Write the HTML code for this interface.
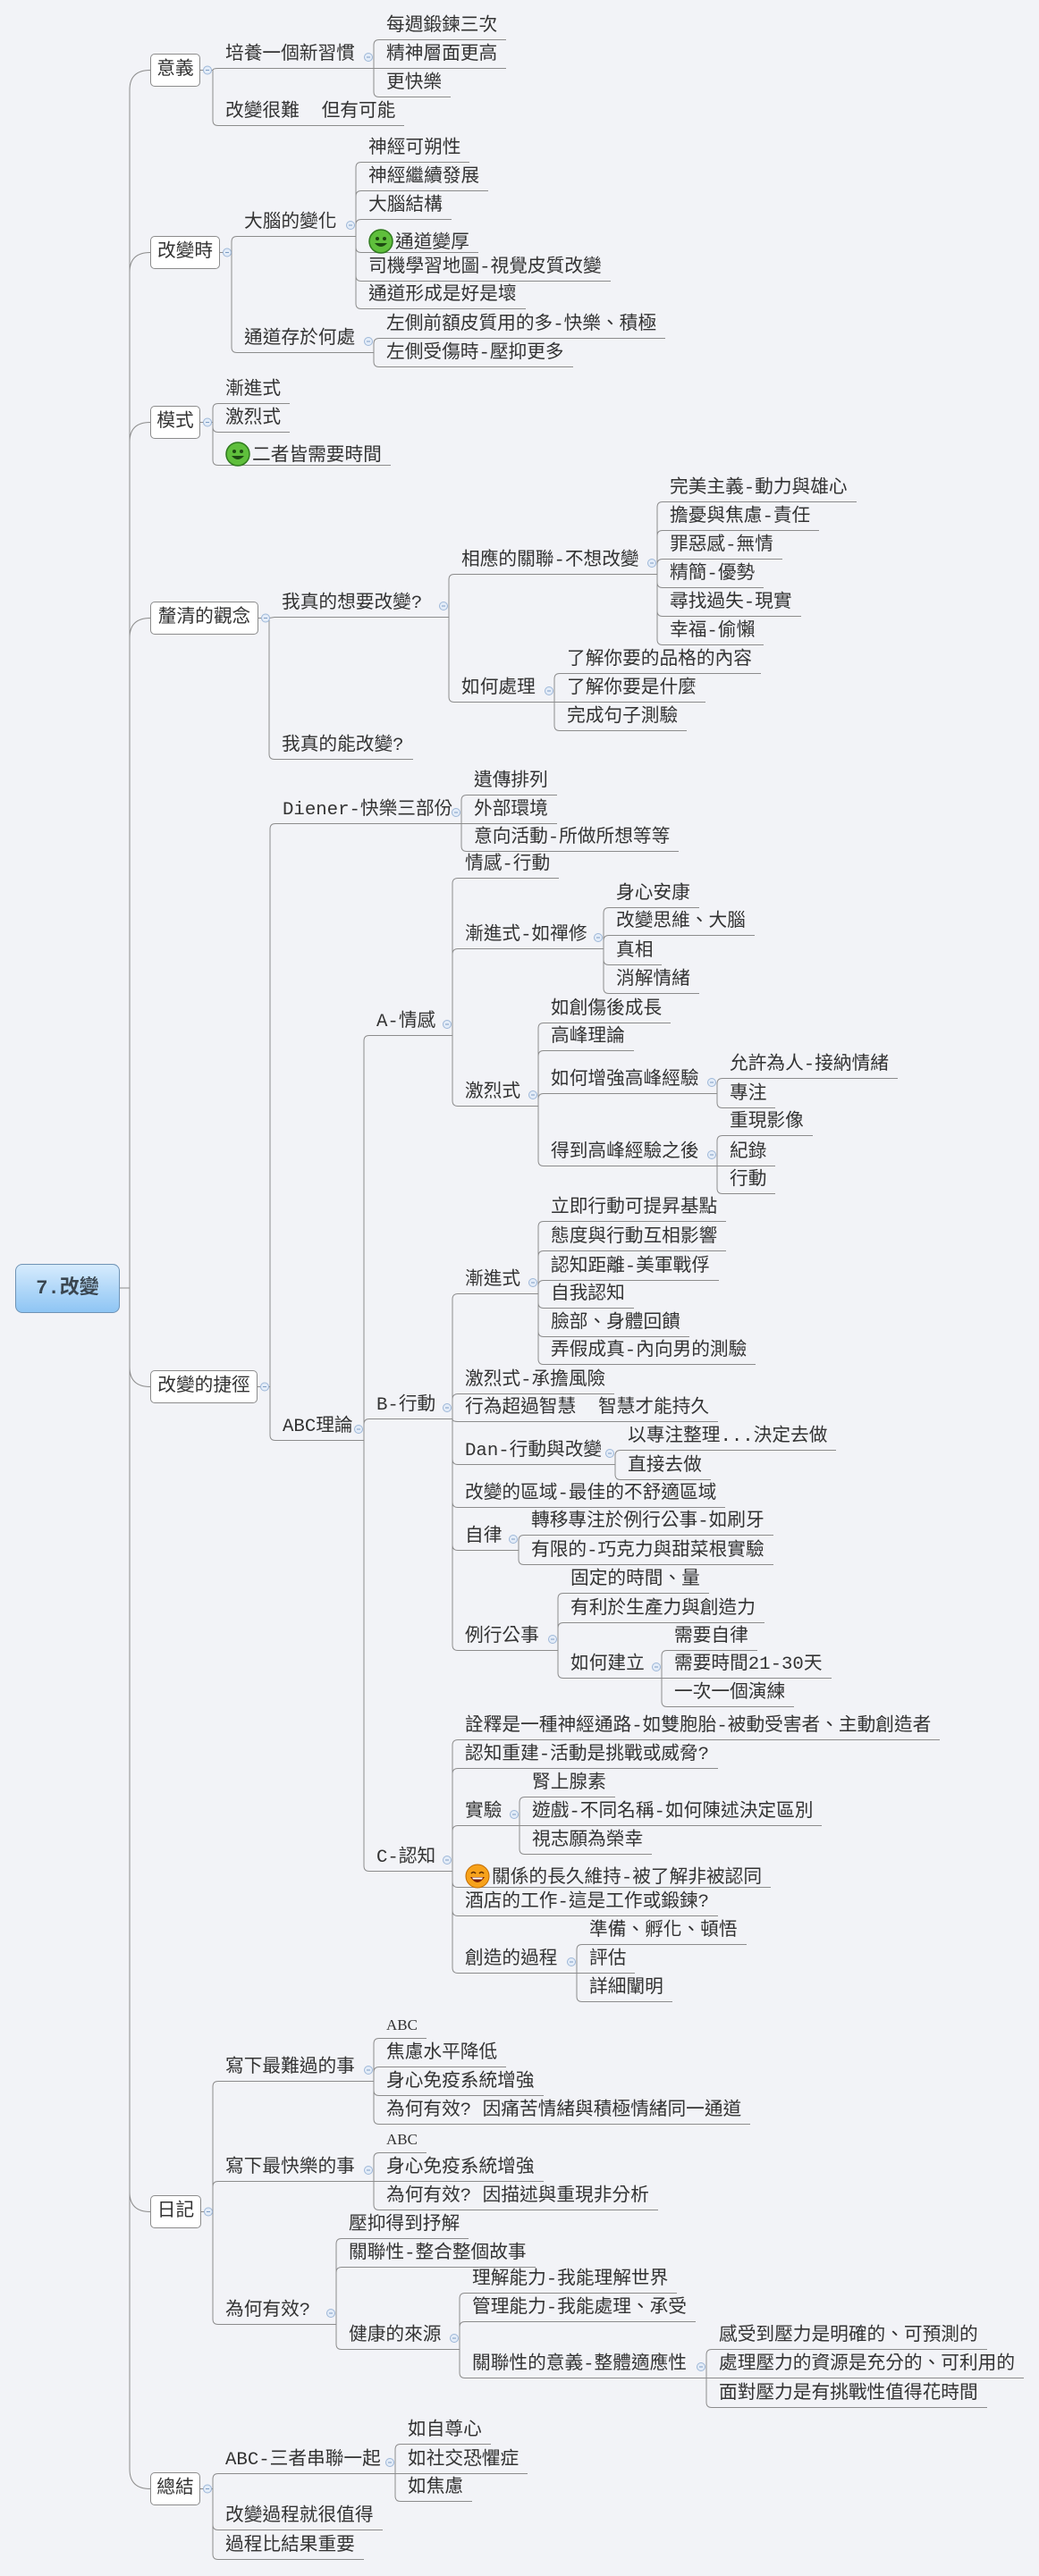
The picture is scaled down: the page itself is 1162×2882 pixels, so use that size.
<!DOCTYPE html>
<html><head><meta charset="utf-8">
<style>
html,body{margin:0;padding:0;}
body{width:1162px;height:2882px;background:#f2f3f7;position:relative;overflow:hidden;
font-family:"Liberation Mono","Noto Sans CJK TC","Noto Sans CJK SC",monospace;color:#333;}
.n{position:absolute;height:27px;line-height:24px;font-size:20.7px;padding:0 10px 0 8px;border-bottom:1px solid #8c8c8c;white-space:nowrap;box-sizing:border-box;}
.b{position:absolute;height:37px;line-height:35px;font-size:20.7px;background:#fff;border:1px solid #8c8c8c;border-radius:5px;box-sizing:border-box;text-align:center;white-space:nowrap;}
.root{position:absolute;left:17px;top:1414px;width:117px;height:55px;border:1px solid #6f93b5;border-radius:8px;background:linear-gradient(#d6ebfd,#8ec5f4);box-sizing:border-box;text-align:center;line-height:53px;font-size:22px;font-weight:bold;color:#3a4650;font-family:"Liberation Mono","Noto Sans CJK TC",monospace;}
.serif{font-family:"Liberation Serif",serif;font-size:17px;}
.ic{display:inline-block;vertical-align:-7px;margin-right:2px;}
svg#lines{position:absolute;left:0;top:0;}
</style></head><body>
<svg id="lines" width="1162" height="2882"></svg>
<div class="root" id="R">7.改變</div>
<div class="b" id="B1" style="left:168px;top:60px;width:56px">意義</div>
<div class="b" id="B2" style="left:168px;top:264px;width:78px">改變時</div>
<div class="b" id="B3" style="left:168px;top:454px;width:56px">模式</div>
<div class="b" id="B4" style="left:168px;top:673px;width:121px">釐清的觀念</div>
<div class="b" id="B5" style="left:168px;top:1533px;width:120px">改變的捷徑</div>
<div class="b" id="B6" style="left:168px;top:2456px;width:57px">日記</div>
<div class="b" id="B7" style="left:168px;top:2766px;width:56px">總結</div>

<div class="n" id="a1" style="left:244px;top:50px">培養一個新習慣</div>
<div class="n" id="a2" style="left:424px;top:18px">每週鍛鍊三次</div>
<div class="n" id="a3" style="left:424px;top:50px">精神層面更高</div>
<div class="n" id="a4" style="left:424px;top:82px">更快樂</div>
<div class="n" id="a5" style="left:244px;top:114px">改變很難&nbsp;&nbsp;但有可能</div>

<div class="n" id="b1" style="left:265px;top:238px">大腦的變化</div>
<div class="n" id="b2" style="left:404px;top:155px">神經可朔性</div>
<div class="n" id="b3" style="left:404px;top:187px">神經繼續發展</div>
<div class="n" id="b4" style="left:404px;top:219px">大腦結構</div>
<div class="n" id="b5" style="left:404px;top:256px"><svg class="ic" width="28" height="28" viewBox="0 0 28 28"><circle cx="14" cy="14" r="13" fill="#5fbf3c" stroke="#2f7a1e" stroke-width="1.5"/><circle cx="10" cy="11" r="2" fill="#1d4a12"/><circle cx="18" cy="11" r="2" fill="#1d4a12"/><path d="M7 16 Q14 24 21 16 Z" fill="#1d4a12"/></svg>通道變厚</div>
<div class="n" id="b6" style="left:404px;top:288px">司機學習地圖-視覺皮質改變</div>
<div class="n" id="b7" style="left:404px;top:319px">通道形成是好是壞</div>
<div class="n" id="b8" style="left:265px;top:368px">通道存於何處</div>
<div class="n" id="b9" style="left:424px;top:352px">左側前額皮質用的多-快樂、積極</div>
<div class="n" id="b10" style="left:424px;top:384px">左側受傷時-壓抑更多</div>

<div class="n" id="c1" style="left:244px;top:425px">漸進式</div>
<div class="n" id="c2" style="left:244px;top:457px">激烈式</div>
<div class="n" id="c3" style="left:244px;top:494px"><svg class="ic" width="28" height="28" viewBox="0 0 28 28"><circle cx="14" cy="14" r="13" fill="#5fbf3c" stroke="#2f7a1e" stroke-width="1.5"/><circle cx="10" cy="11" r="2" fill="#1d4a12"/><circle cx="18" cy="11" r="2" fill="#1d4a12"/><path d="M7 16 Q14 24 21 16 Z" fill="#1d4a12"/></svg>二者皆需要時間</div>

<div class="n" id="d1" style="left:307px;top:664px">我真的想要改變?</div>
<div class="n" id="d2" style="left:508px;top:616px">相應的關聯-不想改變</div>
<div class="n" id="d3" style="left:741px;top:535px">完美主義-動力與雄心</div>
<div class="n" id="d4" style="left:741px;top:567px">擔憂與焦慮-責任</div>
<div class="n" id="d5" style="left:741px;top:599px">罪惡感-無情</div>
<div class="n" id="d6" style="left:741px;top:631px">精簡-優勢</div>
<div class="n" id="d7" style="left:741px;top:663px">尋找過失-現實</div>
<div class="n" id="d8" style="left:741px;top:695px">幸福-偷懶</div>
<div class="n" id="d9" style="left:508px;top:759px">如何處理</div>
<div class="n" id="d10" style="left:626px;top:727px">了解你要的品格的內容</div>
<div class="n" id="d11" style="left:626px;top:759px">了解你要是什麼</div>
<div class="n" id="d12" style="left:626px;top:791px">完成句子測驗</div>
<div class="n" id="d13" style="left:307px;top:823px">我真的能改變?</div>

<div class="n" id="e1" style="left:308px;top:895px">Diener-快樂三部份</div>
<div class="n" id="e2" style="left:522px;top:863px">遺傳排列</div>
<div class="n" id="e3" style="left:522px;top:895px">外部環境</div>
<div class="n" id="e4" style="left:522px;top:926px">意向活動-所做所想等等</div>
<div class="n" id="e5" style="left:308px;top:1585px">ABC理論</div>

<div class="n" id="f1" style="left:413px;top:1132px">A-情感</div>
<div class="n" id="f2" style="left:512px;top:956px">情感-行動</div>
<div class="n" id="f3" style="left:512px;top:1035px">漸進式-如禪修</div>
<div class="n" id="f4" style="left:681px;top:989px">身心安康</div>
<div class="n" id="f5" style="left:681px;top:1020px">改變思維、大腦</div>
<div class="n" id="f6" style="left:681px;top:1053px">真相</div>
<div class="n" id="f7" style="left:681px;top:1085px">消解情緒</div>
<div class="n" id="f8" style="left:512px;top:1211px">激烈式</div>
<div class="n" id="f9" style="left:608px;top:1118px">如創傷後成長</div>
<div class="n" id="f10" style="left:608px;top:1149px">高峰理論</div>
<div class="n" id="f11" style="left:608px;top:1197px">如何增強高峰經驗</div>
<div class="n" id="f12" style="left:808px;top:1180px">允許為人-接納情緒</div>
<div class="n" id="f13" style="left:808px;top:1213px">專注</div>
<div class="n" id="f14" style="left:608px;top:1278px">得到高峰經驗之後</div>
<div class="n" id="f15" style="left:808px;top:1244px">重現影像</div>
<div class="n" id="f16" style="left:808px;top:1278px">紀錄</div>
<div class="n" id="f17" style="left:808px;top:1309px">行動</div>

<div class="n" id="g1" style="left:413px;top:1561px">B-行動</div>
<div class="n" id="g2" style="left:512px;top:1421px">漸進式</div>
<div class="n" id="g3" style="left:608px;top:1340px">立即行動可提昇基點</div>
<div class="n" id="g4" style="left:608px;top:1373px">態度與行動互相影響</div>
<div class="n" id="g5" style="left:608px;top:1406px">認知距離-美軍戰俘</div>
<div class="n" id="g6" style="left:608px;top:1437px">自我認知</div>
<div class="n" id="g7" style="left:608px;top:1469px">臉部、身體回饋</div>
<div class="n" id="g8" style="left:608px;top:1500px">弄假成真-內向男的測驗</div>
<div class="n" id="g9" style="left:512px;top:1533px">激烈式-承擔風險</div>
<div class="n" id="g10" style="left:512px;top:1564px">行為超過智慧&nbsp;&nbsp;智慧才能持久</div>
<div class="n" id="g11" style="left:512px;top:1612px">Dan-行動與改變</div>
<div class="n" id="g12" style="left:694px;top:1596px">以專注整理...決定去做</div>
<div class="n" id="g13" style="left:694px;top:1629px">直接去做</div>
<div class="n" id="g14" style="left:512px;top:1660px">改變的區域-最佳的不舒適區域</div>
<div class="n" id="g15" style="left:512px;top:1708px">自律</div>
<div class="n" id="g16" style="left:586px;top:1691px">轉移專注於例行公事-如刷牙</div>
<div class="n" id="g17" style="left:586px;top:1724px">有限的-巧克力與甜菜根實驗</div>
<div class="n" id="g18" style="left:512px;top:1820px">例行公事</div>
<div class="n" id="g19" style="left:630px;top:1756px">固定的時間、量</div>
<div class="n" id="g20" style="left:630px;top:1789px">有利於生產力與創造力</div>
<div class="n" id="g21" style="left:630px;top:1851px">如何建立</div>
<div class="n" id="g22" style="left:746px;top:1820px">需要自律</div>
<div class="n" id="g23" style="left:746px;top:1851px">需要時間21-30天</div>
<div class="n" id="g24" style="left:746px;top:1883px">一次一個演練</div>

<div class="n" id="h1" style="left:413px;top:2067px">C-認知</div>
<div class="n" id="h2" style="left:512px;top:1920px">詮釋是一種神經通路-如雙胞胎-被動受害者、主動創造者</div>
<div class="n" id="h3" style="left:512px;top:1952px">認知重建-活動是挑戰或威脅?</div>
<div class="n" id="h4" style="left:512px;top:2016px">實驗</div>
<div class="n" id="h5" style="left:587px;top:1984px">腎上腺素</div>
<div class="n" id="h6" style="left:587px;top:2016px">遊戲-不同名稱-如何陳述決定區別</div>
<div class="n" id="h7" style="left:587px;top:2048px">視志願為榮幸</div>
<div class="n" id="h8" style="left:512px;top:2085px"><svg class="ic" width="28" height="28" viewBox="0 0 28 28"><circle cx="14" cy="14" r="13" fill="#f7a21b" stroke="#c06a00" stroke-width="1"/><path d="M7 11 Q9.5 8 12 11" stroke="#5a2a00" stroke-width="1.6" fill="none"/><path d="M16 11 Q18.5 8 21 11" stroke="#5a2a00" stroke-width="1.6" fill="none"/><path d="M6 15 Q14 27 22 15 Z" fill="#7a1f00"/><path d="M8 15.5 L20 15.5 L19 17.5 L9 17.5Z" fill="#fff"/></svg>關係的長久維持-被了解非被認同</div>
<div class="n" id="h9" style="left:512px;top:2117px">酒店的工作-這是工作或鍛鍊?</div>
<div class="n" id="h10" style="left:512px;top:2181px">創造的過程</div>
<div class="n" id="h11" style="left:651px;top:2149px">準備、孵化、頓悟</div>
<div class="n" id="h12" style="left:651px;top:2181px">評估</div>
<div class="n" id="h13" style="left:651px;top:2213px">詳細闡明</div>

<div class="n" id="i1" style="left:244px;top:2302px">寫下最難過的事</div>
<div class="n serif" id="i2" style="left:424px;top:2254px">ABC</div>
<div class="n" id="i3" style="left:424px;top:2286px">焦慮水平降低</div>
<div class="n" id="i4" style="left:424px;top:2318px">身心免疫系統增強</div>
<div class="n" id="i5" style="left:424px;top:2350px">為何有效?&nbsp;因痛苦情緒與積極情緒同一通道</div>
<div class="n" id="i6" style="left:244px;top:2414px">寫下最快樂的事</div>
<div class="n serif" id="i7" style="left:424px;top:2382px">ABC</div>
<div class="n" id="i8" style="left:424px;top:2414px">身心免疫系統增強</div>
<div class="n" id="i9" style="left:424px;top:2446px">為何有效?&nbsp;因描述與重現非分析</div>
<div class="n" id="i10" style="left:244px;top:2574px">為何有效?</div>
<div class="n" id="i11" style="left:382px;top:2478px">壓抑得到抒解</div>
<div class="n" id="i12" style="left:382px;top:2510px">關聯性-整合整個故事</div>
<div class="n" id="i13" style="left:382px;top:2602px">健康的來源</div>
<div class="n" id="i14" style="left:520px;top:2539px">理解能力-我能理解世界</div>
<div class="n" id="i15" style="left:520px;top:2571px">管理能力-我能處理、承受</div>
<div class="n" id="i16" style="left:520px;top:2634px">關聯性的意義-整體適應性</div>
<div class="n" id="i17" style="left:796px;top:2602px">感受到壓力是明確的、可預測的</div>
<div class="n" id="i18" style="left:796px;top:2634px">處理壓力的資源是充分的、可利用的</div>
<div class="n" id="i19" style="left:796px;top:2667px">面對壓力是有挑戰性值得花時間</div>

<div class="n" id="j1" style="left:244px;top:2741px">ABC-三者串聯一起</div>
<div class="n" id="j2" style="left:448px;top:2708px">如自尊心</div>
<div class="n" id="j3" style="left:448px;top:2741px">如社交恐懼症</div>
<div class="n" id="j4" style="left:448px;top:2772px">如焦慮</div>
<div class="n" id="j5" style="left:244px;top:2804px">改變過程就很值得</div>
<div class="n" id="j6" style="left:244px;top:2837px">過程比結果重要</div>

<script>
(function(){
var E="a1:B1,a2:a1,a3:a1,a4:a1,a5:B1,b1:B2,b2:b1,b3:b1,b4:b1,b5:b1,b6:b1,b7:b1,b8:B2,b9:b8,b10:b8,c1:B3,c2:B3,c3:B3,d1:B4,d2:d1,d3:d2,d4:d2,d5:d2,d6:d2,d7:d2,d8:d2,d9:d1,d10:d9,d11:d9,d12:d9,d13:B4,e1:B5,e2:e1,e3:e1,e4:e1,e5:B5,f1:e5,f2:f1,f3:f1,f4:f3,f5:f3,f6:f3,f7:f3,f8:f1,f9:f8,f10:f8,f11:f8,f12:f11,f13:f11,f14:f8,f15:f14,f16:f14,f17:f14,g1:e5,g2:g1,g3:g2,g4:g2,g5:g2,g6:g2,g7:g2,g8:g2,g9:g1,g10:g1,g11:g1,g12:g11,g13:g11,g14:g1,g15:g1,g16:g15,g17:g15,g18:g1,g19:g18,g20:g18,g21:g18,g22:g21,g23:g21,g24:g21,h1:e5,h2:h1,h3:h1,h4:h1,h5:h4,h6:h4,h7:h4,h8:h1,h9:h1,h10:h1,h11:h10,h12:h10,h13:h10,i1:B6,i2:i1,i3:i1,i4:i1,i5:i1,i6:B6,i7:i6,i8:i6,i9:i6,i10:B6,i11:i10,i12:i10,i13:i10,i14:i13,i15:i13,i16:i13,i17:i16,i18:i16,i19:i16,j1:B7,j2:j1,j3:j1,j4:j1,j5:B7,j6:B7";
var kids={};
E.split(",").forEach(function(p){var a=p.split(":");(kids[a[1]]=kids[a[1]]||[]).push(a[0]);});
var svg=document.getElementById("lines");
function g(id){return document.getElementById(id);}
function L(el){return parseFloat(el.style.left);}
function T(el){return parseFloat(el.style.top);}
function seg(bx,py,cx,cy,r){
  var dy=cy-py;
  if(Math.abs(dy)<1.5)return "M"+bx+" "+py+" L"+cx+" "+cy;
  var s=dy>0?1:-1;var rr=Math.min(r,Math.abs(dy));
  return "M"+bx+" "+py+" L"+bx+" "+(cy-s*rr)+" Q"+bx+" "+cy+" "+cx+" "+cy;
}
var paths="",circles="";
["B1","B2","B3","B4","B5","B6","B7"].forEach(function(id){
  var b=g(id);var cy=T(b)+18.5;
  paths+="M134 1441 L145 1441 "+seg(145,1441,168,cy,22)+" ";
});
Object.keys(kids).forEach(function(pid){
  var p=g(pid);var ch=kids[pid];
  var minx=1e9;ch.forEach(function(c){minx=Math.min(minx,L(g(c))+8);});
  var bx=minx-14;
  var px,py;
  if(p.className==="b"){
    px=L(p)+p.offsetWidth;py=T(p)+18.5;
    paths+="M"+px+" "+py+" L"+bx+" "+py+" ";
    circles+='<circle cx="'+(px+8)+'" cy="'+py+'" r="4.5" fill="#e3ecf8" stroke="#9db7d8" stroke-width="1"/><line x1="'+(px+6)+'" y1="'+py+'" x2="'+(px+10)+'" y2="'+py+'" stroke="#7c9cc4"/>';
  }else{
    var w=bx-L(p);
    if(w>p.offsetWidth)p.style.width=w+"px";
    py=T(p)+26.5;
    var cyc=T(p)+14;
    circles+='<circle cx="'+(bx-6)+'" cy="'+cyc+'" r="4.5" fill="#e3ecf8" stroke="#9db7d8" stroke-width="1"/><line x1="'+(bx-8)+'" y1="'+cyc+'" x2="'+(bx-4)+'" y2="'+cyc+'" stroke="#7c9cc4"/>';
  }
  ch.forEach(function(c){
    var ce=g(c);var cy=T(ce)+26.5;
    paths+=seg(bx,py,bx+6,cy,6)+" ";
  });
});
svg.innerHTML='<path d="'+paths+'" fill="none" stroke="#8c8c8c" stroke-width="1"/>'+circles;
})();
</script>
</body></html>
